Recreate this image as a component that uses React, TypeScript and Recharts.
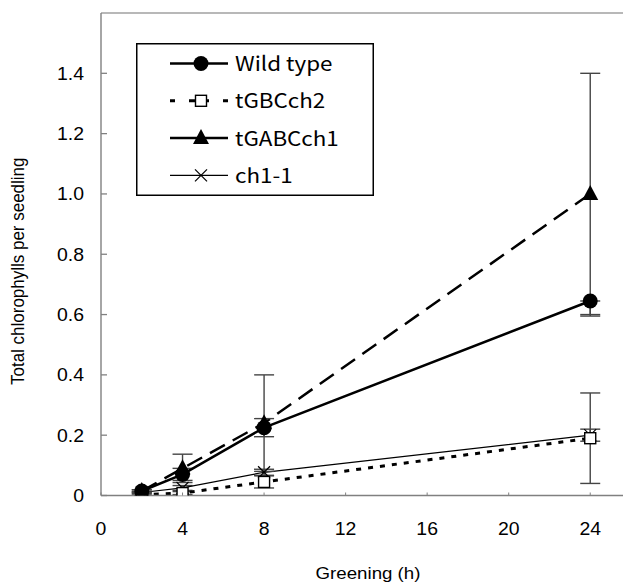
import React from 'react';
import { LineChart, Line, XAxis, YAxis, ErrorBar, Legend, ReferenceLine } from 'recharts';

// ---- data ----
const hours = [2, 4, 8, 24];
const wildType = [0.015, 0.07, 0.225, 0.645];
const wildTypeErr: [number, number][] = [[0.004, 0.004], [0.02, 0.02], [0.03, 0.03], [0.05, 0]];
const tGBCch2 = [0.003, 0.008, 0.045, 0.19];
const tGBCch2Err = [0.002, 0.005, 0.02, 0.15];
const tGABCch1 = [0.015, 0.09, 0.24, 1.0];
const tGABCch1Err = [0.004, 0.047, 0.16, 0.4];
const ch11 = [0.01, 0.025, 0.077, 0.2];
const ch11Err = [0.003, 0.008, 0.01, 0.02];

const xTicks = [0, 4, 8, 12, 16, 20, 24];
const yTicks = [0, 0.2, 0.4, 0.6, 0.8, 1.0, 1.2, 1.4];
const yTickLabels = ['0', '0.2', '0.4', '0.6', '0.8', '1.0', '1.2', '1.4'];
const seriesNames = ['Wild type', 'tGBCch2', 'tGABCch1', 'ch1-1'];
const xTitle = 'Greening (h)';
const yTitle = 'Total chlorophylls per seedling';

const data = hours.map((h, i) => ({
  h,
  wt: wildType[i],
  wtErr: wildTypeErr[i],
  g2: tGBCch2[i],
  g2Err: tGBCch2Err[i],
  g1: tGABCch1[i],
  g1Err: tGABCch1Err[i],
  c: ch11[i],
  cErr: ch11Err[i],
}));

const AXIS = '#808080';
const TICK_FONT = '"Liberation Sans", Arial, sans-serif';
const LEG_FONT = '"Noto Sans CJK JP", "Liberation Sans", sans-serif';

type Marker = 'circle' | 'square' | 'triangle' | 'cross';

function drawMarker(kind: Marker, cx: number, cy: number, key?: any) {
  if (kind === 'circle') return <circle key={key} cx={cx} cy={cy} r={7.5} fill="#000" />;
  if (kind === 'square')
    return <rect key={key} x={cx - 5.5} y={cy - 5.5} width={11} height={11} fill="#fff" stroke="#000" strokeWidth={1.4} />;
  if (kind === 'triangle')
    return <polygon key={key} points={`${cx},${cy - 9} ${cx - 8},${cy + 6} ${cx + 8},${cy + 6}`} fill="#000" />;
  return (
    <g key={key} stroke="#000" strokeWidth={1.2}>
      <line x1={cx - 6} y1={cy - 6} x2={cx + 6} y2={cy + 6} />
      <line x1={cx - 6} y1={cy + 6} x2={cx + 6} y2={cy - 6} />
    </g>
  );
}

const dotFor = (kind: Marker) => (props: any) => {
  const { cx, cy, index } = props;
  if (cx == null || cy == null) return <g key={`${kind}-${index}`} />;
  return drawMarker(kind, cx, cy, `${kind}-${index}`);
};

const styles = [
  { marker: 'circle' as Marker, width: 2.5, dash: undefined as string | undefined, legDash: undefined as string | undefined },
  { marker: 'square' as Marker, width: 3, dash: '5 7', legDash: '5 14 20 14 5' },
  { marker: 'triangle' as Marker, width: 2.5, dash: '17 9', legDash: undefined },
  { marker: 'cross' as Marker, width: 1.2, dash: undefined, legDash: undefined },
];

const XTick = (props: any) => {
  const { x, y, payload } = props;
  return (
    <g>
      <line x1={x} x2={x} y1={y} y2={y - 3} stroke={AXIS} strokeWidth={1} />
      <text
        transform={`translate(${x},${y + 39}) scale(1.08,1)`}
        textAnchor="middle"
        fontFamily={TICK_FONT}
        fontSize={18}
        fill="#000"
      >
        {String(payload.value)}
      </text>
    </g>
  );
};

const YTick = (props: any) => {
  const { x, y, payload, index } = props;
  return (
    <g>
      <line x1={x} x2={x + 6} y1={y} y2={y} stroke={AXIS} strokeWidth={1.3} />
      <text
        transform={`translate(${x - 17},${y + 6.5}) scale(1.08,1)`}
        textAnchor="end"
        fontFamily={TICK_FONT}
        fontSize={18}
        fill="#000"
      >
        {yTickLabels[index] ?? String(payload.value)}
      </text>
    </g>
  );
};

const XTitle = (props: any) => {
  const vb = props.viewBox || {};
  const cx = vb.x + vb.width / 2 + 2;
  return (
    <text
      transform={`translate(${cx},${vb.y + 83}) scale(1.1,1)`}
      textAnchor="middle"
      fontFamily={TICK_FONT}
      fontSize={17}
      fill="#000"
    >
      {xTitle}
    </text>
  );
};

const YTitle = (props: any) => {
  const vb = props.viewBox || {};
  const cy = vb.y + vb.height / 2 + 17;
  return (
    <text
      transform={`translate(16,${cy}) rotate(-90) scale(1,1.12)`}
      textAnchor="middle"
      fontFamily={TICK_FONT}
      fontSize={17}
      fill="#000"
    >
      {yTitle}
    </text>
  );
};

const LegendBox = () => {
  const rowY = (i: number) => 20.5 + i * 37.3;
  return (
    <svg width={238} height={153} style={{ display: 'block' }}>
      <rect x={0.75} y={0.75} width={236.5} height={151.5} fill="#fff" stroke="#000" strokeWidth={1.5} />
      {seriesNames.map((name, i) => {
        const st = styles[i];
        const y = rowY(i);
        return (
          <g key={name}>
            <line x1={34} x2={92} y1={y} y2={y} stroke="#000" strokeWidth={st.width} strokeDasharray={st.legDash} />
            {drawMarker(st.marker, 65, y)}
            <text
              transform={`translate(99,${y + 7.5}) scale(1.12,1)`}
              fontFamily={LEG_FONT}
              fontSize={20}
              fill="#000"
            >
              {name}
            </text>
          </g>
        );
      })}
    </svg>
  );
};

export default function App() {
  return (
    <LineChart
      width={623}
      height={577}
      data={data}
      margin={{ top: 5, right: 0, bottom: 0, left: 0 }}
    >
      <XAxis
        dataKey="h"
        type="number"
        domain={[0, 26]}
        ticks={xTicks}
        allowDataOverflow
        tickLine={false}
        tickSize={0}
        tickMargin={0}
        height={89.5}
        stroke={AXIS}
        strokeWidth={1.4}
        tick={<XTick />}
        label={{ content: <XTitle /> } as any}
      />
      <YAxis
        type="number"
        domain={[0, 1.6]}
        ticks={yTicks}
        allowDataOverflow
        tickLine={false}
        tickSize={0}
        tickMargin={0}
        width={93}
        stroke={AXIS}
        strokeWidth={1.4}
        tick={<YTick />}
        label={{ content: <YTitle /> } as any}
      />
      <ReferenceLine y={1.6} stroke="#a0a0a0" strokeWidth={1.4} ifOverflow="visible" />
      <Line
        dataKey="c"
        stroke="#000"
        strokeWidth={styles[3].width}
        dot={dotFor('cross')}
        isAnimationActive={false}
      >
        <ErrorBar dataKey="cErr" direction="y" width={10} stroke="#444" strokeWidth={1.4} />
      </Line>
      <Line
        dataKey="g2"
        stroke="#000"
        strokeWidth={styles[1].width}
        strokeDasharray={styles[1].dash}
        dot={dotFor('square')}
        isAnimationActive={false}
      >
        <ErrorBar dataKey="g2Err" direction="y" width={10} stroke="#444" strokeWidth={1.4} />
      </Line>
      <Line
        dataKey="g1"
        stroke="#000"
        strokeWidth={styles[2].width}
        strokeDasharray={styles[2].dash}
        dot={dotFor('triangle')}
        isAnimationActive={false}
      >
        <ErrorBar dataKey="g1Err" direction="y" width={10} stroke="#444" strokeWidth={1.4} />
      </Line>
      <Line
        dataKey="wt"
        stroke="#000"
        strokeWidth={styles[0].width}
        dot={dotFor('circle')}
        isAnimationActive={false}
      >
        <ErrorBar dataKey="wtErr" direction="y" width={10} stroke="#444" strokeWidth={1.4} />
      </Line>
      <Legend
        layout="vertical"
        align="center"
        verticalAlign="middle"
        content={() => <LegendBox />}
        wrapperStyle={{ position: 'absolute', left: 128, top: 35, width: 238, height: 153 }}
      />
    </LineChart>
  );
}
